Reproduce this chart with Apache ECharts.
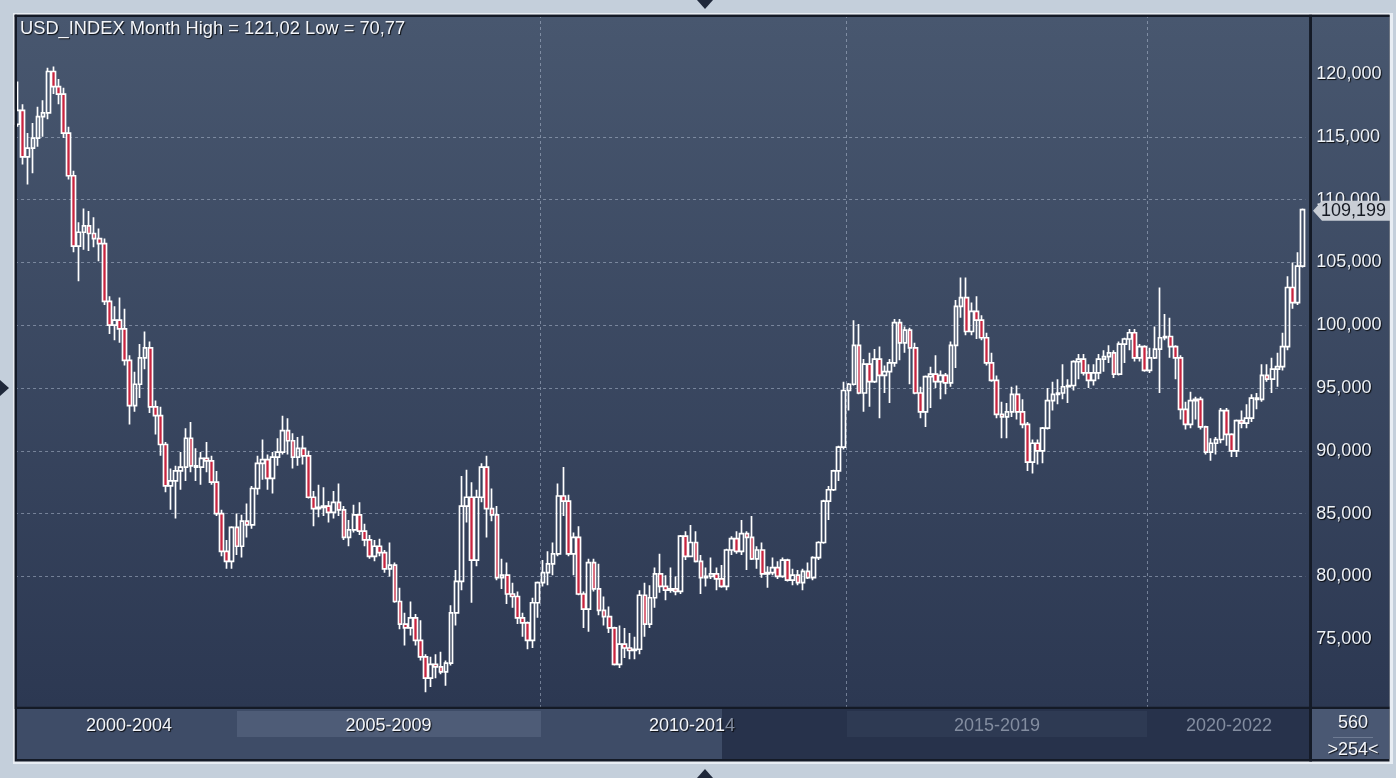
<!DOCTYPE html>
<html>
<head>
<meta charset="utf-8">
<title>USD_INDEX Month</title>
<script src="https://cdn.jsdelivr.net/npm/echarts@6.0.0/dist/echarts.min.js"></script>
<style>
html,body{margin:0;padding:0;background:#c4cfdb;overflow:hidden;}
#chart{width:1396px;height:778px;}
</style>
</head>
<body>
<div id="chart"></div>
<script>
// ---------------- data ----------------
const chartTitle = 'USD_INDEX Month High = 121,02 Low = 70,77';
const firstYear = 2001, firstMonth = 7;   // first visible bar: Jul 2001, one bar per month

const opens = [
  116.0,117.1,113.4,114.1,114.9,116.6,
  116.9,120.2,119.0,118.4,115.3,111.9,106.3,107.4,107.9,107.3,106.9,106.5,
  101.9,100.0,100.4,99.7,97.2,93.6,95.3,97.4,98.2,93.5,92.8,90.5,
  87.2,87.6,88.4,88.7,91.0,88.8,88.7,89.4,89.2,87.5,85.0,82.0,
  81.2,83.9,82.4,84.4,84.1,87.0,89.0,89.3,87.8,89.5,89.9,91.6,
  90.8,89.5,90.2,89.6,86.3,85.4,85.5,85.6,85.1,85.9,85.3,83.1,
  83.7,84.9,83.6,82.9,81.6,82.4,81.9,80.6,80.9,78.0,76.2,75.9,
  76.7,74.9,73.6,71.9,73.0,72.8,72.4,73.1,77.1,79.6,85.6,86.3,
  81.3,86.3,88.7,85.4,84.9,79.9,80.1,78.6,78.4,76.7,76.3,74.9,
  77.9,79.5,80.3,81.0,81.8,86.4,86.0,81.8,83.1,78.6,77.4,81.1,
  79.0,77.3,76.8,75.9,73.0,74.6,74.3,74.1,74.2,78.5,76.2,78.3,
  80.2,79.2,78.9,79.0,78.8,83.2,81.6,82.7,81.2,79.9,80.0,80.2,
  79.8,79.2,82.1,83.0,82.0,83.4,83.1,81.4,82.1,80.2,80.3,80.7,
  80.0,81.3,79.7,80.1,79.5,80.4,79.9,81.5,82.7,86.0,86.9,88.4,
  90.3,94.8,95.3,98.4,94.6,96.9,95.5,97.3,96.0,96.3,97.0,100.2,
  98.6,99.6,98.2,94.6,93.1,95.9,96.1,95.5,96.0,95.4,98.4,101.5,
  102.2,99.5,101.1,100.4,99.0,97.0,95.6,92.9,92.7,93.1,94.5,93.1,
  92.1,89.1,90.6,90.0,91.8,94.0,94.5,94.6,95.1,95.2,97.1,97.3,
  96.2,95.6,96.2,97.3,97.5,97.8,96.1,98.5,98.9,99.4,97.4,98.3,
  96.4,97.4,98.1,99.0,99.1,98.3,97.4,93.3,92.1,94.0,94.1,91.9,
  89.9,90.6,90.9,93.2,91.3,90.0,92.4,92.2,92.6,94.2,94.1,96.0,
  95.7,96.5,96.7,98.3,103.0,101.8,104.7
];
const highs = [
  119.4,117.6,115.3,116.1,117.4,117.9,
  120.5,120.6,119.6,118.9,115.8,112.3,108.2,109.3,109.1,108.6,107.7,106.9,
  102.3,101.5,102.2,101.3,97.6,96.3,98.5,99.5,98.7,94.0,93.5,90.7,
  88.6,88.8,89.9,91.8,92.3,90.2,89.9,90.7,89.6,88.4,85.3,82.9,
  84.0,85.0,84.9,85.8,87.2,89.6,90.9,89.7,89.9,91.0,92.8,92.6,
  91.4,91.1,91.2,90.0,86.8,87.3,87.1,86.0,86.8,87.4,85.6,84.5,
  85.7,85.9,84.2,83.3,82.9,83.0,82.1,82.7,81.1,79.1,77.1,78.0,
  77.0,76.5,73.8,73.6,73.8,74.0,73.3,77.7,80.5,88.0,88.5,87.5,
  86.9,89.0,89.6,87.0,85.6,81.4,81.1,79.5,78.8,77.1,76.4,78.3,
  79.6,81.3,82.0,82.7,87.4,88.7,86.5,83.5,84.0,78.8,81.4,81.4,
  81.0,78.4,77.6,76.0,76.1,75.9,75.5,75.2,78.9,79.5,79.3,80.7,
  81.8,80.1,80.7,80.0,83.3,83.6,84.1,83.6,81.7,80.7,81.5,80.7,
  80.9,82.2,83.2,83.6,84.5,83.6,84.8,82.4,82.7,80.8,81.5,81.2,
  81.5,81.4,80.6,80.5,80.6,81.1,81.6,82.8,86.1,87.2,88.5,90.4,
  95.5,95.4,100.4,100.1,97.3,97.8,98.1,98.3,96.8,97.3,100.5,100.5,
  99.9,99.8,98.6,95.1,96.0,96.7,97.6,96.4,96.2,98.7,102.0,103.8,
  103.8,101.8,102.3,100.8,99.4,97.8,96.0,93.9,93.8,95.1,95.2,94.1,
  92.3,90.9,90.9,91.9,95.0,95.5,95.7,96.9,95.7,97.2,97.7,97.7,
  96.9,96.9,97.7,98.0,98.4,98.0,98.7,99.0,99.7,99.7,98.5,98.4,
  98.2,99.9,103.0,100.9,100.6,98.4,97.6,93.9,94.7,94.3,94.3,92.0,
  91.0,91.1,93.4,93.4,91.4,92.5,93.2,93.7,94.5,94.6,96.9,96.9,
  97.4,97.8,99.4,103.9,105.0,105.8,109.3
];
const lows = [
  115.8,112.8,111.2,112.1,114.2,115.0,
  116.4,118.4,117.6,114.9,111.6,105.8,103.5,106.0,105.9,106.2,105.1,101.6,
  99.3,98.8,98.6,96.8,92.1,93.1,94.2,96.5,93.0,91.3,89.6,86.7,
  85.3,84.6,86.9,87.6,88.3,87.6,87.3,88.3,87.3,84.8,81.6,80.6,
  80.6,81.7,81.5,83.1,83.8,86.5,87.7,86.9,86.6,88.8,89.7,89.7,
  88.6,88.8,88.9,86.2,84.0,84.7,84.8,84.3,84.6,84.8,82.9,82.4,
  83.5,83.3,82.4,81.4,81.2,81.6,80.3,80.0,77.9,75.8,74.5,75.3,
  74.5,73.3,70.77,71.2,71.9,72.2,71.3,72.9,76.1,78.9,84.3,77.9,
  80.8,85.9,83.1,84.4,79.7,79.0,77.8,77.5,76.2,75.2,74.2,74.3,
  76.7,79.2,79.3,80.1,81.6,84.8,81.6,80.1,78.5,75.9,75.6,78.8,
  76.9,76.1,75.5,72.9,72.7,73.5,73.4,73.4,73.8,75.2,75.9,77.5,
  78.7,78.1,78.7,78.5,78.6,81.3,81.6,81.1,78.6,79.2,79.8,78.9,
  79.1,78.9,81.7,81.8,81.7,80.5,81.3,80.6,79.9,79.1,80.1,79.8,
  79.9,79.6,79.3,79.3,78.9,79.8,79.7,81.3,82.6,84.5,86.8,87.6,
  90.1,93.2,95.2,94.5,93.1,93.5,95.4,92.6,94.6,93.8,96.7,97.2,
  97.8,95.3,94.5,92.6,91.9,93.4,95.0,94.1,94.5,95.1,96.6,100.6,
  99.2,99.2,98.9,98.8,96.8,95.5,92.6,91.0,91.0,92.7,92.5,91.8,
  88.4,88.2,88.9,89.0,91.7,93.2,93.7,94.1,93.8,94.8,95.7,96.0,
  95.0,95.2,95.7,96.3,97.0,95.8,96.0,97.0,98.0,97.1,97.1,96.3,
  96.2,97.3,94.6,98.8,97.4,95.7,92.5,91.7,91.8,92.5,91.7,89.7,
  89.2,89.7,90.6,90.4,89.5,89.5,91.8,91.8,92.3,93.3,93.9,95.5,
  94.6,95.1,96.4,98.0,101.3,101.6,104.6
];
const closes = [
  117.1,113.4,114.1,114.9,116.6,116.9,
  120.2,119.0,118.4,115.3,111.9,106.3,107.4,107.9,107.3,106.9,106.5,101.9,
  100.0,100.4,99.7,97.2,93.6,95.3,97.4,98.2,93.5,92.8,90.5,87.2,
  87.6,88.4,88.7,91.0,88.8,88.7,89.4,89.2,87.5,85.0,82.0,81.2,
  83.9,82.4,84.4,84.1,87.0,89.0,89.3,87.8,89.5,89.9,91.6,90.8,
  89.5,90.2,89.6,86.3,85.4,85.5,85.6,85.1,85.9,85.3,83.1,83.7,
  84.9,83.6,82.9,81.6,82.4,81.9,80.6,80.9,78.0,76.2,75.9,76.7,
  74.9,73.6,71.9,73.0,72.8,72.4,73.1,77.1,79.6,85.6,86.3,81.3,
  86.3,88.7,85.4,84.9,79.9,80.1,78.6,78.4,76.7,76.3,74.9,77.9,
  79.5,80.3,81.0,81.8,86.4,86.0,81.8,83.1,78.6,77.4,81.1,79.0,
  77.3,76.8,75.9,73.0,74.6,74.3,74.1,74.2,78.5,76.2,78.3,80.2,
  79.2,78.9,79.0,78.8,83.2,81.6,82.7,81.2,79.9,80.0,80.2,79.8,
  79.2,82.1,83.0,82.0,83.4,83.1,81.4,82.1,80.2,80.3,80.7,80.0,
  81.3,79.7,80.1,79.5,80.4,79.9,81.5,82.7,86.0,86.9,88.4,90.3,
  94.8,95.3,98.4,94.6,96.9,95.5,97.3,96.0,96.3,97.0,100.2,98.6,
  99.6,98.2,94.6,93.1,95.9,96.1,95.5,96.0,95.4,98.4,101.5,102.2,
  99.5,101.1,100.4,99.0,97.0,95.6,92.9,92.7,93.1,94.5,93.1,92.1,
  89.1,90.6,90.0,91.8,94.0,94.5,94.6,95.1,95.2,97.1,97.3,96.2,
  95.6,96.2,97.3,97.5,97.8,96.1,98.5,98.9,99.4,97.4,98.3,96.4,
  97.4,98.1,99.0,99.1,98.3,97.4,93.3,92.1,94.0,94.1,91.9,89.9,
  90.6,90.9,93.2,91.3,90.0,92.4,92.2,92.6,94.2,94.1,96.0,95.7,
  96.5,96.7,98.3,103.0,101.8,104.7,109.199
];

const yTickValues = [75, 80, 85, 90, 95, 100, 105, 110, 115, 120];
const vGridCats = ['2005-03', '2010-02', '2015-02', '2020-01'];
const periodLabels = ['2000-2004', '2005-2009', '2010-2014', '2015-2019', '2020-2022'];
const barsTotalText = '560';
const barsVisibleText = '>254<';

// categories (months)
const months = opens.map(function (_, k) {
  const m = firstMonth - 1 + k;
  return (firstYear + Math.floor(m / 12)) + '-' + String(m % 12 + 1).padStart(2, '0');
});

// ---------------- style ----------------
const FONT = '"Liberation Sans", Arial, Helvetica, sans-serif';
const shadow = { textShadowColor: 'rgba(0,0,0,0.85)', textShadowBlur: 1, textShadowOffsetX: 1, textShadowOffsetY: 1 };
const gridLine = { color: 'rgba(184,196,216,0.5)', type: [3, 3], width: 1 };
const fmt = function (v) { return Number(v).toFixed(3).replace('.', ','); };

const chart = echarts.init(document.getElementById('chart'), null, { renderer: 'canvas' });

chart.setOption({
  animation: false,
  backgroundColor: '#c4cfdb',
  title: {
    text: chartTitle, left: 20, top: 20, padding: 0,
    textStyle: Object.assign({ color: '#f4f6fa', fontSize: 18.3, fontWeight: 'normal', fontFamily: FONT }, shadow)
  },
  grid: { left: 15.05, top: 15, width: 1290.3, height: 693, containLabel: false, outerBoundsMode: 'none' },
  xAxis: {
    type: 'category', data: months, boundaryGap: true,
    axisLine: { show: false }, axisTick: { show: false }, axisLabel: { show: false },
    splitLine: {
      show: true, showMinLine: false, showMaxLine: false,
      interval: function (i, v) { return vGridCats.indexOf(v) >= 0 || vGridCats.indexOf(months[i]) >= 0; },
      lineStyle: gridLine
    }
  },
  yAxis: {
    type: 'value', position: 'right', min: 69.522, max: 124.697,
    axisLine: { show: false },
    axisTick: { show: false, customValues: yTickValues },
    axisLabel: Object.assign({
      customValues: yTickValues, margin: 11, color: '#eef2f7', fontSize: 18, fontFamily: FONT,
      formatter: fmt
    }, shadow),
    splitLine: { show: true, showMinLine: false, showMaxLine: false, lineStyle: gridLine }
  },
  series: [{
    type: 'candlestick',
    silent: true,
    barWidth: 4.2,
    data: months.map(function (_, i) { return [opens[i], closes[i], lows[i], highs[i]]; }),
    itemStyle: {
      color: 'transparent', color0: '#c8243f',
      borderColor: '#ffffff', borderColor0: '#ffffff', borderColorDoji: '#ffffff',
      borderWidth: 1.7
    }
  }]
});

// ---------------- frame / decorations ----------------
const lastClose = closes[closes.length - 1];
const yTag = chart.convertToPixel({ yAxisIndex: 0 }, lastClose) + 1;
function grad() {
  return new echarts.graphic.LinearGradient(0, 0, 0, 1, [
    { offset: 0, color: '#48576f' }, { offset: 1, color: '#2c3852' }
  ]);
}
function rect(x, y, w, h, fill, z) {
  return { type: 'rect', z: z, silent: true, shape: { x: x, y: y, width: w, height: h }, style: { fill: fill } };
}
function txt(s, x, y, fill, z, extra) {
  return { type: 'text', z: z, silent: true,
    style: Object.assign({ text: s, x: x, y: y, fill: fill, fontSize: 18, fontFamily: FONT,
      align: 'center', verticalAlign: 'middle' }, shadow, extra || {}) };
}
const dim = '#838da0';
const graphics = [
  rect(13, 13, 1380, 751, '#e8edf3', -10),
  rect(14.7, 14.7, 1374.8, 746.8, '#141a26', -10),
  { type: 'rect', z: -10, silent: true, shape: { x: 17, y: 17, width: 1292.3, height: 690 }, style: { fill: grad() } },
  { type: 'rect', z: -10, silent: true, shape: { x: 1312, y: 17, width: 77.3, height: 690 }, style: { fill: grad() } },
  rect(17, 709, 705, 50, '#3e4c67', -10),
  rect(722, 709, 587.3, 50, '#27324b', -10),
  rect(237, 711, 304, 26, '#4e5c77', -10),
  rect(847, 711, 300, 26, '#2e3a53', -10),
  rect(1312, 709, 77.3, 50, '#4a5873', -10),
  // frame overlays above the plot
  rect(14.7, 14.7, 2.3, 692, '#141a26', 50),
  rect(14.7, 14.7, 1374.8, 2.3, '#141a26', 50),
  rect(14.7, 706.8, 1374.8, 2.2, '#141a26', 50),
  rect(1309.3, 14.7, 2.7, 746.8, '#141a26', 50),
  // timeline labels
  txt(periodLabels[0], 129, 726, '#f4f6fa', 5),
  txt(periodLabels[1], 388.5, 726, '#f4f6fa', 5),
  txt('{w|2010-201}{g|4}', 692, 726, '#f4f6fa', 5, {
    rich: {
      w: Object.assign({ fill: '#f4f6fa', fontSize: 18, fontFamily: FONT }, shadow),
      g: { fill: dim, fontSize: 18, fontFamily: FONT }
    }
  }),
  txt(periodLabels[3], 997, 726, dim, 5, { textShadowColor: 'transparent' }),
  txt(periodLabels[4], 1229, 726, dim, 5, { textShadowColor: 'transparent' }),
  // bar counter
  txt(barsTotalText, 1353, 723.5, '#f4f6fa', 5),
  { type: 'line', z: 5, silent: true, shape: { x1: 1333, y1: 737.5, x2: 1373, y2: 737.5 }, style: { stroke: '#6e7b93', lineWidth: 1 } },
  txt(barsVisibleText, 1353, 750, '#f4f6fa', 5),
  // navigation arrows
  { type: 'polygon', z: 5, silent: true, shape: { points: [[697, 0], [713, 0], [705, 9]] }, style: { fill: '#1f283a' } },
  { type: 'polygon', z: 5, silent: true, shape: { points: [[697, 778], [713, 778], [705, 769]] }, style: { fill: '#1f283a' } },
  { type: 'polygon', z: 5, silent: true, shape: { points: [[0, 380], [0, 396], [9, 388]] }, style: { fill: '#1f283a' } },
  // current price tag
  { type: 'polygon', z: 60, silent: true,
    shape: { points: [[1313, yTag], [1322, yTag - 10], [1390, yTag - 10], [1390, yTag + 10], [1322, yTag + 10]] },
    style: { fill: '#c9ced6' } },
  { type: 'text', z: 61, silent: true,
    style: { text: fmt(lastClose), x: 1321, y: yTag, fill: '#151922', fontSize: 18, fontFamily: FONT,
      align: 'left', verticalAlign: 'middle' } }
];
chart.setOption({ graphic: graphics });
</script>
</body>
</html>
